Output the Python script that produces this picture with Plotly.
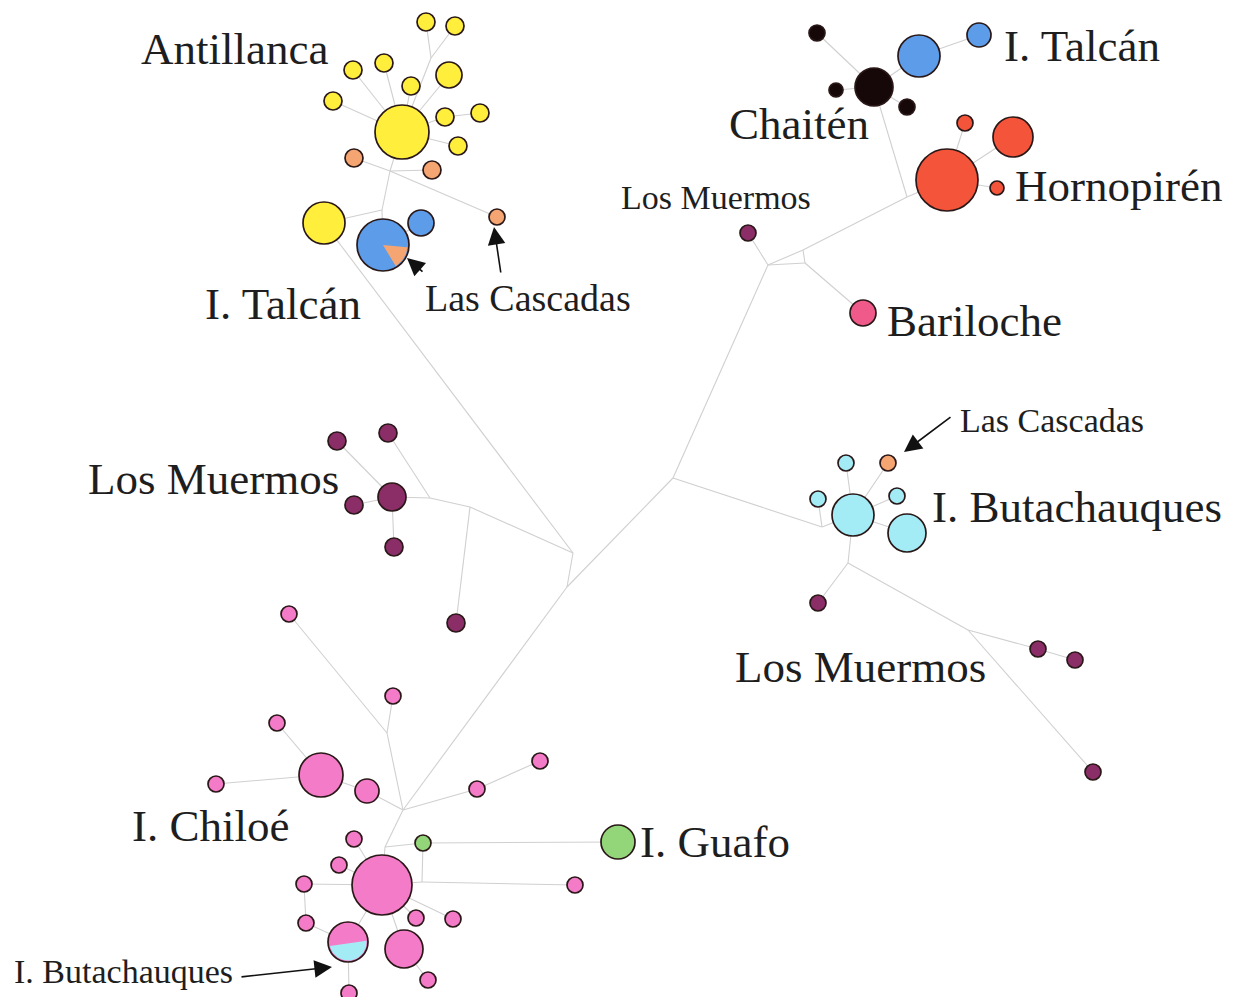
import math
import plotly.graph_objects as go

# ---------------- data ----------------
node_id = [
    # Antillanca / I. Talcan (left)
    "A0", "A1", "A2", "Aj1", "A3", "A4", "A5", "A6", "A7", "A8", "A9", "A10",
    "O1", "O2", "O3", "Aj2", "Aj3", "Y2", "T1", "T2",
    # Los Muermos (left)
    "M0", "M1", "M2", "M3", "M4", "M5", "Mj1", "Mj2",
    # centre
    "C1", "C2", "C3",
    # upper right
    "R1", "R2", "R3", "LMt", "Bar", "Hj", "H0", "H1", "H2", "H3",
    "K0", "K1", "K2", "K3", "TB1", "TB2",
    # Butachauques
    "Bj", "B0", "B1", "B2", "B3", "B4", "BO", "Bj2", "LM1", "Bj3", "LM2", "LM3", "LM4",
    # Chiloe
    "Q0", "Q1", "P1", "P2", "P3", "P4", "P5", "P6", "P7", "P8", "Q2", "G1", "G2", "Q3",
    "P9", "P10", "P11", "P12", "P13", "P14", "P15", "P16", "P17", "P18", "P19", "P20",
]
node_x = [
    402, 426, 455, 431, 449, 353, 384, 411, 333, 445, 480, 458,
    354, 432, 497, 390, 382, 324, 383, 421,
    392, 337, 388, 354, 394, 456, 430, 470,
    573, 567, 673,
    768, 803, 805, 748, 863, 907, 947, 965, 1013, 997,
    874, 817, 836, 907, 919, 979,
    822, 853, 907, 846, 818, 897, 888, 848, 818, 968, 1038, 1075, 1093,
    403, 387, 289, 393, 277, 321, 367, 216, 477, 540, 385, 423, 618, 422,
    575, 382, 354, 339, 304, 306, 416, 453, 348, 404, 428, 349,
]
node_y = [
    132, 22, 26, 58, 75, 70, 63, 86, 101, 117, 113, 146,
    158, 170, 217, 171, 210, 223, 245, 223,
    497, 441, 433, 505, 547, 623, 498, 507,
    553, 587, 478,
    265, 250, 263, 233, 313, 197, 180, 123, 137, 188,
    87, 33, 90, 107, 56, 35,
    527, 515, 533, 463, 499, 496, 463, 563, 603, 630, 649, 660, 772,
    810, 733, 614, 696, 723, 775, 791, 784, 789, 761, 847, 843, 842, 882,
    885, 885, 839, 865, 884, 923, 918, 919, 942, 949, 980, 993,
]
node_r = [
    27, 9, 9, 0, 13, 9, 9, 9, 9, 9, 9, 9,
    9, 9, 8, 0, 0, 21, 26, 13,
    14, 9, 9, 9, 9, 9, 0, 0,
    0, 0, 0,
    0, 0, 0, 8, 13, 0, 31, 8, 20, 7,
    19, 8, 7, 8, 21, 12,
    0, 21, 19, 8, 8, 8, 8, 0, 8, 0, 8, 8, 8,
    0, 0, 8, 8, 8, 22, 12, 8, 8, 8, 0, 8, 17, 0,
    8, 30, 8, 8, 8, 8, 8, 8, 20, 19, 8, 8,
]
node_group = [
    "Antillanca", "Antillanca", "Antillanca", "junction", "Antillanca", "Antillanca",
    "Antillanca", "Antillanca", "Antillanca", "Antillanca", "Antillanca", "Antillanca",
    "Las Cascadas", "Las Cascadas", "Las Cascadas", "junction", "junction", "Antillanca",
    "I. Talcán", "I. Talcán",
    "Los Muermos", "Los Muermos", "Los Muermos", "Los Muermos", "Los Muermos", "Los Muermos",
    "junction", "junction",
    "junction", "junction", "junction",
    "junction", "junction", "junction", "Los Muermos", "Bariloche", "junction",
    "Hornopirén", "Hornopirén", "Hornopirén", "Hornopirén",
    "Chaitén", "Chaitén", "Chaitén", "Chaitén", "I. Talcán", "I. Talcán",
    "junction", "I. Butachauques", "I. Butachauques", "I. Butachauques", "I. Butachauques",
    "I. Butachauques", "Las Cascadas", "junction", "Los Muermos", "junction",
    "Los Muermos", "Los Muermos", "Los Muermos",
    "junction", "junction", "I. Chiloé", "I. Chiloé", "I. Chiloé", "I. Chiloé", "I. Chiloé",
    "I. Chiloé", "I. Chiloé", "I. Chiloé", "junction", "I. Guafo", "I. Guafo", "junction",
    "I. Chiloé", "I. Chiloé", "I. Chiloé", "I. Chiloé", "I. Chiloé", "I. Chiloé", "I. Chiloé",
    "I. Chiloé", "I. Chiloé", "I. Chiloé", "I. Chiloé", "I. Chiloé",
]

edge_from = [
    "Aj1", "Aj1", "Aj1", "A3", "A6", "A4", "A5", "A7", "A8", "A8", "A10",
    "A0", "Aj2", "Aj2", "Aj2", "Aj2", "Aj3", "Aj3", "T1", "Y2",
    "M1", "M3", "M4", "M0", "M2", "Mj1", "Mj2", "Mj2",
    "C1", "C2", "C3", "C3",
    "R1", "R1", "R1", "R2", "R2", "R3", "Hj", "Hj",
    "K0", "K0", "K0", "K0", "TB1", "H0", "H0", "H0",
    "Bj", "Bj", "B0", "B0", "B0", "B0", "B0", "Bj2", "Bj2", "Bj3", "LM2", "Bj3",
    "C2", "Q0", "Q1", "Q1", "Q0", "P5", "P4", "P4", "Q0", "P7", "Q0", "Q2", "Q2",
    "G1", "G1", "P10", "Q3", "P11", "P12", "P13", "P13", "P14", "P17", "P15", "P16",
    "P18", "P18", "P17",
]
edge_to = [
    "A1", "A2", "A0", "A0", "A0", "A0", "A0", "A0", "A0", "A9", "A0",
    "Aj2", "O1", "O2", "O3", "Aj3", "Y2", "T1", "T2", "C1",
    "M0", "M0", "M0", "Mj1", "Mj1", "Mj2", "M5", "C1",
    "C2", "C3", "R1", "Bj",
    "LMt", "R2", "R3", "R3", "Hj", "Bar", "H0", "K0",
    "K1", "K2", "K3", "TB1", "TB2", "H1", "H2", "H3",
    "B3", "B0", "B2", "BO", "B4", "B1", "Bj2", "LM1", "Bj3", "LM2", "LM3", "LM4",
    "Q0", "Q1", "P1", "P2", "P5", "P4", "P3", "P6", "P7", "P8", "Q2", "P10", "G1",
    "G2", "Q3", "Q3", "P9", "P10", "P10", "P10", "P14", "P17", "P10", "P10", "P10",
    "P10", "P19", "P20",
]

# mixed haplotypes: node, second group, fraction of second group
mixed_node = ["T1", "P17"]
mixed_second = ["Las Cascadas", "I. Butachauques"]
mixed_fraction = [0.15, 0.45]

label_text = [
    "Antillanca", "I. Talcán", "Chaitén", "Hornopirén", "Bariloche", "I. Talcán",
    "Los Muermos", "I. Butachauques", "Los Muermos", "I. Chiloé", "I. Guafo",
    "Los Muermos", "Las Cascadas", "Las Cascadas", "I. Butachauques",
]
label_x = [139, 1002, 727, 1013, 885, 203, 86, 930, 733, 130, 638, 619, 423, 958, 12]
label_y = [49, 46, 124, 186, 321, 304, 479, 507, 667, 826, 842, 197, 298, 420, 971]
label_size = [45, 45, 45, 45, 45, 45, 45, 45, 45, 45, 45, 34, 38, 34, 34]

# arrows: tip (x, y), tail (x, y)
arrow_tip_x = [407, 494, 904, 332]
arrow_tip_y = [258, 227, 452, 967]
arrow_tail_x = [424, 501, 952, 240]
arrow_tail_y = [273, 274, 416, 977]

group_color = {
    "Antillanca": "#FFEF3C",
    "Las Cascadas": "#F5A572",
    "I. Talcán": "#5C9CE8",
    "Chaitén": "#160808",
    "Hornopirén": "#F4553A",
    "Bariloche": "#EF5A8A",
    "Los Muermos": "#8B2E68",
    "I. Butachauques": "#A3ECF6",
    "I. Chiloé": "#F47BC8",
    "I. Guafo": "#93D67A",
}

# ---------------- figure ----------------
PAGE_W, PAGE_H = 1245, 1005
OFF = 8  # default page body margin
W, H = PAGE_W - 2 * OFF, PAGE_H - 2 * OFF
pos = {n: (x, y) for n, x, y in zip(node_id, node_x, node_y)}
rad = {n: r for n, r in zip(node_id, node_r)}

fig = go.Figure()

ex, ey = [], []
for a, b in zip(edge_from, edge_to):
    ex += [pos[a][0], pos[b][0], None]
    ey += [pos[a][1], pos[b][1], None]
fig.add_trace(go.Scatter(x=ex, y=ey, mode="lines",
                         line=dict(color="#d0d0d0", width=1.1),
                         hoverinfo="skip", showlegend=False, cliponaxis=False))

vis = [i for i, g in enumerate(node_group) if g != "junction"]
fig.add_trace(go.Scatter(
    x=[node_x[i] for i in vis], y=[node_y[i] for i in vis], mode="markers",
    marker=dict(size=[2 * node_r[i] for i in vis],
                color=[group_color[node_group[i]] for i in vis],
                line=dict(color="#2a1818", width=1.7), opacity=1),
    text=[node_group[i] for i in vis], hoverinfo="text", showlegend=False,
    cliponaxis=False))


def wedge_points(cx, cy, r, frac, start_deg):
    a0 = math.radians(start_deg)
    a1 = a0 + 2 * math.pi * frac
    xs, ys = [cx], [cy]
    n = 30
    for k in range(n + 1):
        a = a0 + (a1 - a0) * k / n
        xs.append(cx + r * math.cos(a))
        ys.append(cy + r * math.sin(a))
    xs.append(cx)
    ys.append(cy)
    return xs, ys


def segment_points(cx, cy, r, frac, tilt_deg):
    # circular segment (bottom part) with area fraction frac
    lo, hi = 0.0, math.pi
    for _ in range(60):
        mid = (lo + hi) / 2
        area = (mid - math.sin(mid) * math.cos(mid)) / math.pi
        if area < frac:
            lo = mid
        else:
            hi = mid
    half = (lo + hi) / 2
    t = math.radians(tilt_deg)
    xs, ys = [], []
    n = 40
    for k in range(n + 1):
        a = math.pi / 2 - half + 2 * half * k / n + t
        xs.append(cx + r * math.cos(a))
        ys.append(cy + r * math.sin(a))
    xs.append(xs[0])
    ys.append(ys[0])
    return xs, ys


for n, g2, f in zip(mixed_node, mixed_second, mixed_fraction):
    cx, cy = pos[n]
    r = rad[n] - 1.4
    if n == "T1":
        xs, ys = wedge_points(cx, cy, r, f, 5)
    else:
        xs, ys = segment_points(cx, cy, r, f, -8)
    fig.add_trace(go.Scatter(x=xs, y=ys, mode="lines", fill="toself",
                             fillcolor=group_color[g2], line=dict(width=0),
                             hoverinfo="skip", showlegend=False))

for t, x, y, s in zip(label_text, label_x, label_y, label_size):
    fig.add_annotation(x=x, y=y, text=t, showarrow=False, xanchor="left",
                       yanchor="middle",
                       font=dict(family="Liberation Serif, Times New Roman, serif",
                                 size=s, color="#1e1e1e"))

for tx, ty, ax, ay in zip(arrow_tip_x, arrow_tip_y, arrow_tail_x, arrow_tail_y):
    fig.add_annotation(x=tx, y=ty, ax=ax, ay=ay, xref="x", yref="y",
                       axref="x", ayref="y", text="", showarrow=True,
                       arrowhead=2, arrowsize=2.2, arrowwidth=1.6,
                       arrowcolor="#111111")

fig.update_layout(
    width=W, height=H, autosize=False,
    margin=dict(l=0, r=0, t=0, b=0),
    paper_bgcolor="white", plot_bgcolor="white",
    xaxis=dict(range=[OFF, OFF + W], visible=False, fixedrange=True),
    yaxis=dict(range=[OFF + H, OFF], visible=False, fixedrange=True),
    showlegend=False,
)

fig.write_html("out.html")
